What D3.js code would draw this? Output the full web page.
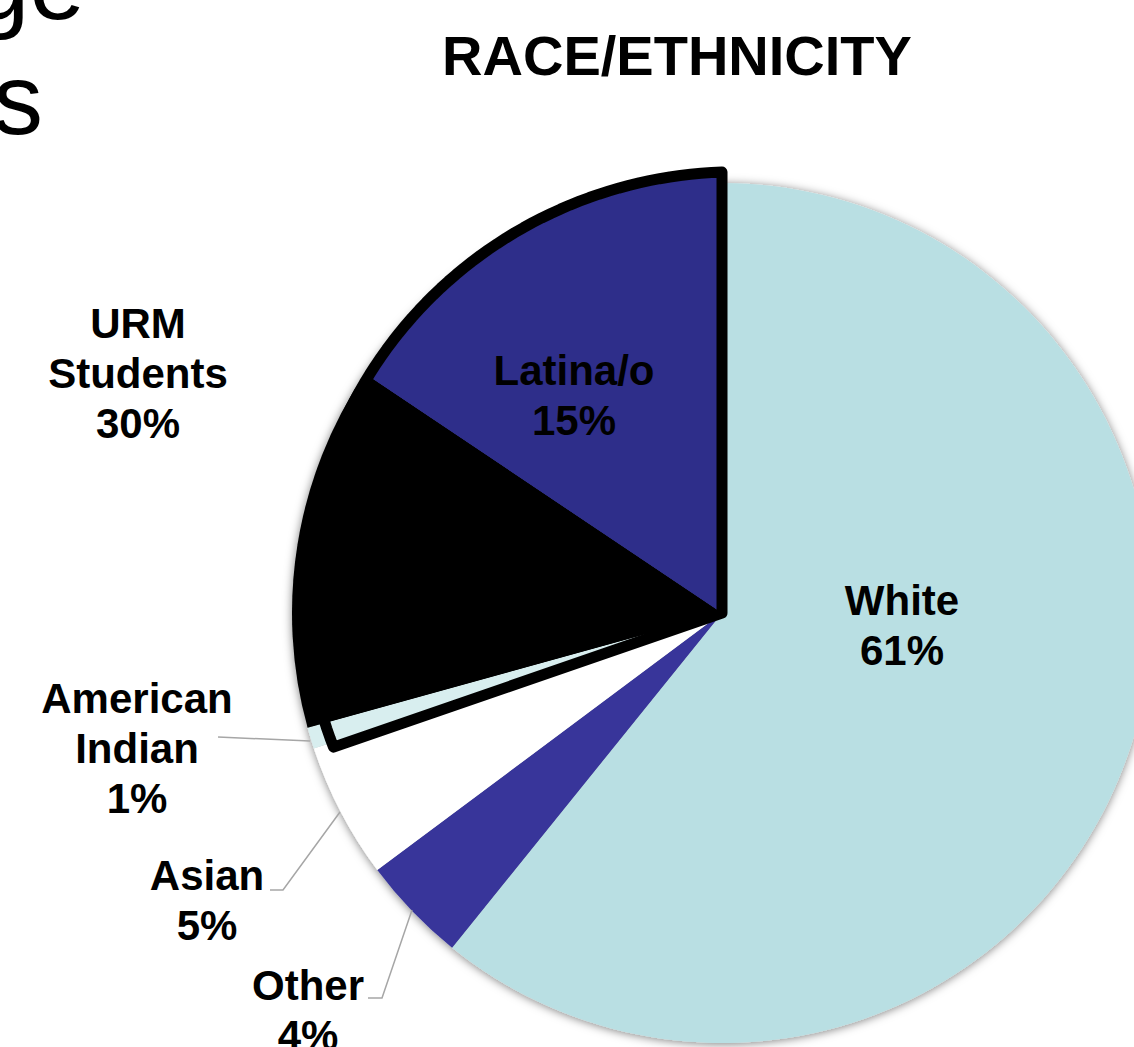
<!DOCTYPE html>
<html>
<head>
<meta charset="utf-8">
<script src="https://cdn.jsdelivr.net/npm/d3@7"></script>
<style>
  html, body { margin: 0; padding: 0; background: #fff; overflow: hidden; }
  svg { display: block; }
  text { font-family: "Liberation Sans", Arial, sans-serif; }
</style>
</head>
<body>
<svg id="chart" width="1134" height="1047"></svg>
<script>
// ---- data ----
const categories = ["White", "Other", "Asian", "American Indian", "Black", "Latina/o"];
const values = [60.8, 4.0, 5.1, 0.8, 13.7, 15.6];
const sliceColors = ["#B9DFE3", "#37359A", "#FFFFFF", "#D8EEEF", "#000000", "#2E2E8A"];
const urmGroup = ["American Indian", "Black", "Latina/o"];
const title = "RACE/ETHNICITY";
const labelLines = {
  "White": ["White", "61%"],
  "Latina/o": ["Latina/o", "15%"],
  "American Indian": ["American", "Indian", "1%"],
  "Asian": ["Asian", "5%"],
  "Other": ["Other", "4%"],
  "URM": ["URM", "Students", "30%"]
};
const slideTitleFragments = ["ge", "s"];

// ---- layout ----
const svg = d3.select("#chart");
const cx = 722, cy = 613, R = 430;

const defs = svg.append("defs");
const shadow = defs.append("filter").attr("id", "shadow")
  .attr("x", "-10%").attr("y", "-10%").attr("width", "120%").attr("height", "120%");
shadow.append("feDropShadow").attr("dx", 0).attr("dy", 1).attr("stdDeviation", 5)
  .attr("flood-color", "#000").attr("flood-opacity", 0.5);

// slide title fragments
svg.append("text").attr("x", 85).attr("y", 19).attr("text-anchor", "end")
  .attr("font-size", 100).attr("fill", "#000").text(slideTitleFragments[0]);
svg.append("text").attr("x", 43).attr("y", 134).attr("text-anchor", "end")
  .attr("font-size", 100).attr("fill", "#000").text(slideTitleFragments[1]);

// chart title
svg.append("text").attr("x", 677).attr("y", 75).attr("text-anchor", "middle")
  .attr("font-size", 56).attr("font-weight", "bold").attr("fill", "#000").text(title);

const data = categories.map((c, i) => ({ cat: c, value: values[i], color: sliceColors[i] }));
const pie = d3.pie().sort(null).value(d => d.value).startAngle(0).endAngle(2 * Math.PI);
const arcs = pie(data);
const arc = d3.arc().innerRadius(0).outerRadius(R);

const g = svg.append("g").attr("transform", `translate(${cx},${cy})`);
g.append("g").attr("filter", "url(#shadow)")
  .selectAll("path").data(arcs).join("path")
  .attr("d", arc).attr("fill", d => d.data.color);

// URM group overlay (exploded outline)
const urmArcs = arcs.filter(d => urmGroup.includes(d.data.cat));
const a0 = d3.min(urmArcs, d => d.startAngle) - 0.012;
const a1 = d3.max(urmArcs, d => d.endAngle);
const rStart = 411, rEnd = 441;
const steps = 80;
const pts = [{ a: a0, r: 0 }];
for (let i = 0; i <= steps; i++) {
  const t = i / steps;
  pts.push({ a: a0 + (a1 - a0) * t, r: rStart + (rEnd - rStart) * t });
}
const radial = d3.lineRadial().angle(d => d.a).radius(d => d.r);
const overlayD = radial(pts) + "Z";

defs.append("clipPath").attr("id", "urmClip")
  .append("path").attr("d", overlayD).attr("transform", `translate(${cx},${cy})`);

const bigArc = d3.arc().innerRadius(0).outerRadius(rEnd + 20);
svg.append("g").attr("clip-path", "url(#urmClip)")
  .append("g").attr("transform", `translate(${cx},${cy})`)
  .selectAll("path").data(urmArcs).join("path")
  .attr("d", bigArc).attr("fill", d => d.data.color);

svg.append("g").attr("transform", `translate(${cx},${cy})`)
  .append("path").attr("d", overlayD)
  .attr("fill", "none").attr("stroke", "#000").attr("stroke-width", 11)
  .attr("stroke-linejoin", "round");

// leader lines
const leaders = [
  [[218, 737], [310, 741]],
  [[270, 890], [283, 890], [340, 812]],
  [[368, 998], [382, 998], [412, 910]]
];
svg.selectAll("path.leader").data(leaders).join("path")
  .attr("class", "leader")
  .attr("d", d3.line())
  .attr("fill", "none").attr("stroke", "#A6A6A6").attr("stroke-width", 1.5);

// labels
const labelPos = {
  "White": [902, 615],
  "Latina/o": [574, 385],
  "American Indian": [137, 713],
  "Asian": [207, 890],
  "Other": [308, 1000],
  "URM": [138, 338]
};
const lineH = 50;
Object.keys(labelPos).forEach(k => {
  const [x, y] = labelPos[k];
  const t = svg.append("text").attr("text-anchor", "middle")
    .attr("font-size", 42).attr("font-weight", "bold").attr("fill", "#000");
  labelLines[k].forEach((s, i) => {
    t.append("tspan").attr("x", x).attr("y", y + i * lineH).text(s);
  });
});
</script>
</body>
</html>
